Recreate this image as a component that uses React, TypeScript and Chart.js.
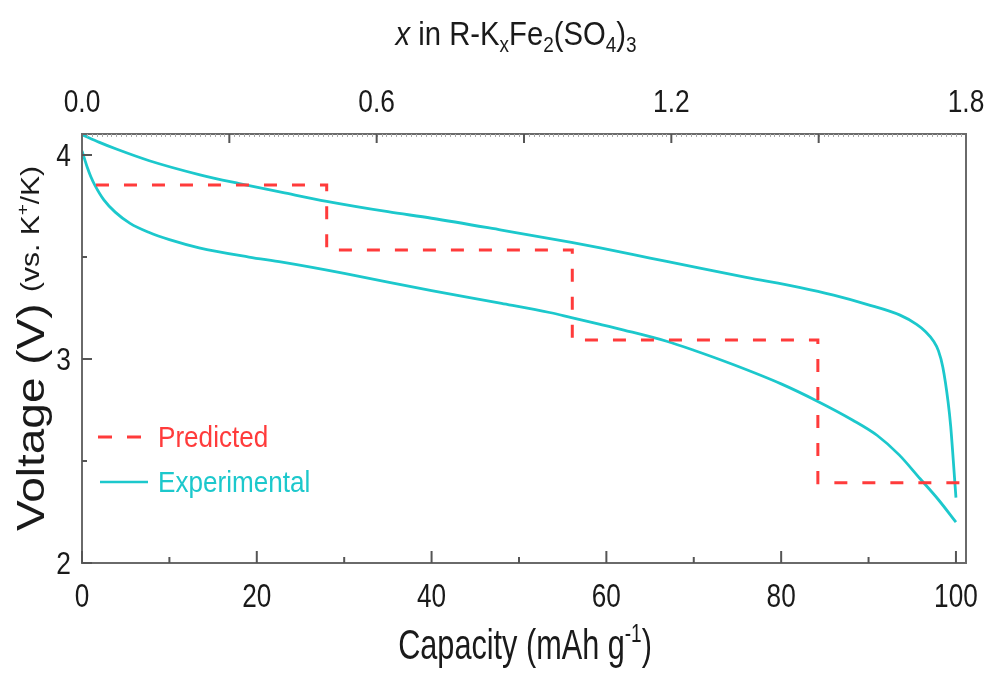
import React, { useEffect, useRef } from 'react';
import { Chart, registerables } from 'chart.js';

Chart.register(...registerables);

// ---- Data ----
const predictedX = [1.6, 28, 28, 56.1, 56.1, 84.2, 84.2, 101.2];
const predictedY = [3.853, 3.853, 3.534, 3.534, 3.093, 3.093, 2.394, 2.394];

const chargeX = [0, 2, 4, 7.7, 13.5, 18, 22.9, 28, 35, 40, 48, 56, 59.3, 65, 70.7, 76, 82.2, 86, 89.8, 93.6, 95.5, 96.5, 97.4, 98, 98.5, 99.1, 99.4, 99.7, 100];
const chargeY = [4.10, 4.062, 4.028, 3.972, 3.903, 3.860, 3.817, 3.773, 3.722, 3.69, 3.632, 3.572, 3.545, 3.495, 3.445, 3.40, 3.35, 3.313, 3.268, 3.215, 3.17, 3.135, 3.09, 3.04, 2.96, 2.79, 2.67, 2.50, 2.32];

const dischargeX = [0, 0.3, 0.6, 1, 1.5, 2.5, 3.8, 5.5, 7.7, 10, 13.4, 19.1, 22.9, 30, 40, 48, 53.5, 56, 59.3, 62, 66.9, 70, 74.5, 80, 84.2, 88.2, 91, 93.5, 95.9, 98, 100];
const dischargeY = [4.02, 3.98, 3.94, 3.895, 3.85, 3.78, 3.72, 3.665, 3.62, 3.585, 3.545, 3.50, 3.475, 3.42, 3.335, 3.273, 3.228, 3.203, 3.17, 3.142, 3.087, 3.043, 2.973, 2.878, 2.792, 2.70, 2.625, 2.53, 2.413, 2.31, 2.20];

const bottomTicks = [0, 20, 40, 60, 80, 100];
const bottomMinor = [10, 30, 50, 70, 90];
const topTicks = [0.0, 0.6, 1.2, 1.8];
const topMajorMarks = [0.3, 0.6, 0.9, 1.2, 1.5];
const leftTicks = [2, 3, 4];
const leftMinor = [2.5, 3.5];

const RED = '#ff3b3b';
const CYAN = '#1cc8cc';
const FONT = "'Liberation Sans', Arial, sans-serif";

type Seg = { t: string; s: number; dy?: number; it?: boolean };

function drawRich(ctx: CanvasRenderingContext2D, segs: Seg[], x: number, y: number, align: 'left' | 'center' | 'right', sx: number, color: string, rotate = false) {
  ctx.save();
  ctx.fillStyle = color;
  ctx.textBaseline = 'alphabetic';
  ctx.textAlign = 'left';
  let total = 0;
  const widths = segs.map((sg) => {
    ctx.font = `${sg.it ? 'italic ' : ''}${sg.s}px ${FONT}`;
    const w = ctx.measureText(sg.t).width;
    total += w;
    return w;
  });
  ctx.translate(x, y);
  ctx.scale(sx, 1);
  if (rotate) ctx.rotate(-Math.PI / 2);
  let cx = align === 'center' ? -total / 2 : align === 'right' ? -total : 0;
  segs.forEach((sg, i) => {
    ctx.font = `${sg.it ? 'italic ' : ''}${sg.s}px ${FONT}`;
    ctx.fillText(sg.t, cx, sg.dy || 0);
    cx += widths[i];
  });
  ctx.restore();
}

const decorPlugin = {
  id: 'decor',
  afterDraw(chart: any) {
    const ctx: CanvasRenderingContext2D = chart.ctx;
    const { left, right, top, bottom } = chart.chartArea;
    const xs = chart.scales.x;
    const x2 = chart.scales.x2;
    const ys = chart.scales.y;
    ctx.save();
    // frame
    ctx.strokeStyle = '#6a6a6a';
    ctx.lineWidth = 2;
    ctx.strokeRect(left, top, right - left, bottom - top);

    // top dense minor ticks
    ctx.strokeStyle = '#aaaaaa';
    ctx.lineWidth = 1;
    for (let i = 1; i < 180; i++) {
      const px = Math.round(x2.getPixelForValue(i / 100)) + 0.5;
      ctx.beginPath();
      ctx.moveTo(px, top);
      ctx.lineTo(px, top + 3);
      ctx.stroke();
    }
    ctx.strokeStyle = '#555';
    ctx.lineWidth = 2;
    topMajorMarks.forEach((v) => {
      const px = x2.getPixelForValue(v);
      ctx.beginPath();
      ctx.moveTo(px, top);
      ctx.lineTo(px, top + 9);
      ctx.stroke();
    });
    // bottom ticks
    bottomTicks.forEach((v) => {
      const px = xs.getPixelForValue(v);
      ctx.beginPath();
      ctx.moveTo(px, bottom);
      ctx.lineTo(px, bottom - 12);
      ctx.stroke();
    });
    bottomMinor.forEach((v) => {
      const px = xs.getPixelForValue(v);
      ctx.beginPath();
      ctx.moveTo(px, bottom);
      ctx.lineTo(px, bottom - 6);
      ctx.stroke();
    });
    // left ticks
    leftTicks.forEach((v) => {
      const py = ys.getPixelForValue(v);
      ctx.beginPath();
      ctx.moveTo(left, py);
      ctx.lineTo(left + 10, py);
      ctx.stroke();
    });
    leftMinor.forEach((v) => {
      const py = ys.getPixelForValue(v);
      ctx.beginPath();
      ctx.moveTo(left, py);
      ctx.lineTo(left + 5, py);
      ctx.stroke();
    });

    const TXT = '#1a1a1a';
    // tick labels
    bottomTicks.forEach((v) => {
      drawRich(ctx, [{ t: String(v), s: 34 }], xs.getPixelForValue(v), 607, 'center', 0.77, TXT);
    });
    topTicks.forEach((v) => {
      drawRich(ctx, [{ t: v.toFixed(1), s: 31 }], x2.getPixelForValue(v), 112, 'center', 0.85, TXT);
    });
    leftTicks.forEach((v) => {
      drawRich(ctx, [{ t: String(v), s: 31 }], 71, ys.getPixelForValue(v) + 11, 'right', 0.85, TXT);
    });

    // axis titles
    drawRich(ctx, [
      { t: 'x', s: 34, it: true },
      { t: ' in R-K', s: 34 },
      { t: 'x', s: 22, dy: 7 },
      { t: 'Fe', s: 34 },
      { t: '2', s: 22, dy: 7 },
      { t: '(SO', s: 34 },
      { t: '4', s: 22, dy: 7 },
      { t: ')', s: 34 },
      { t: '3', s: 22, dy: 7 },
    ], 516, 45, 'center', 0.86, TXT);

    drawRich(ctx, [
      { t: 'Capacity (mAh g', s: 42 },
      { t: '-1', s: 26, dy: -17 },
      { t: ')', s: 42 },
    ], 525, 659, 'center', 0.73, TXT);

    drawRich(ctx, [{ t: 'Voltage (V)', s: 46 }], 44, 531, 'left', 0.83, TXT, true);
    drawRich(ctx, [
      { t: '(vs. K', s: 30 },
      { t: '+', s: 19, dy: -13 },
      { t: '/K)', s: 30 },
    ], 39, 292, 'left', 0.83, TXT, true);

    // legend
    ctx.strokeStyle = RED;
    ctx.lineWidth = 3;
    ctx.setLineDash([14, 15]);
    ctx.beginPath();
    ctx.moveTo(98, 437);
    ctx.lineTo(141, 437);
    ctx.stroke();
    ctx.setLineDash([]);
    ctx.strokeStyle = CYAN;
    ctx.lineWidth = 2.5;
    ctx.beginPath();
    ctx.moveTo(100, 482);
    ctx.lineTo(148, 482);
    ctx.stroke();
    drawRich(ctx, [{ t: chart.data.datasets[0].label, s: 30 }], 158, 447, 'left', 0.87, RED);
    drawRich(ctx, [{ t: chart.data.datasets[1].label, s: 30 }], 158, 492, 'left', 0.87, CYAN);
    ctx.restore();
  },
};

export default function App() {
  const ref = useRef<HTMLCanvasElement | null>(null);
  useEffect(() => {
    if (!ref.current) return;
    const chart = new Chart(ref.current, {
      type: 'line',
      data: {
        datasets: [
          {
            label: 'Predicted',
            data: predictedX.map((x, i) => ({ x, y: predictedY[i] })),
            borderColor: RED,
            borderWidth: 3,
            borderDash: [13, 15],
            pointRadius: 0,
            tension: 0,
            fill: false,
            xAxisID: 'x',
            yAxisID: 'y',
          },
          {
            label: 'Experimental',
            data: chargeX.map((x, i) => ({ x, y: chargeY[i] })),
            borderColor: CYAN,
            borderWidth: 2.8,
            pointRadius: 0,
            cubicInterpolationMode: 'monotone',
            fill: false,
            xAxisID: 'x',
            yAxisID: 'y',
          },
          {
            label: 'Experimental discharge',
            data: dischargeX.map((x, i) => ({ x, y: dischargeY[i] })),
            borderColor: CYAN,
            borderWidth: 2.8,
            pointRadius: 0,
            cubicInterpolationMode: 'monotone',
            fill: false,
            xAxisID: 'x',
            yAxisID: 'y',
          },
        ],
      },
      options: {
        responsive: false,
        maintainAspectRatio: false,
        devicePixelRatio: 1,
        animation: false,
        layout: { padding: { left: 82, top: 134, right: 20, bottom: 112 } },
        plugins: { legend: { display: false }, tooltip: { enabled: false } },
        scales: {
          x: { type: 'linear', min: 0, max: 101.15, display: false },
          x2: { type: 'linear', min: 0, max: 1.8, display: false, position: 'top' },
          y: { type: 'linear', min: 2, max: 4.103, display: false },
        },
      },
      plugins: [decorPlugin],
    } as any);
    return () => chart.destroy();
  }, []);
  return (
    <div style={{ position: 'absolute', left: 0, top: 0, width: 986, height: 675, background: '#fff' }}>
      <canvas ref={ref} width={986} height={675} style={{ display: 'block', width: 986, height: 675 }} />
    </div>
  );
}
